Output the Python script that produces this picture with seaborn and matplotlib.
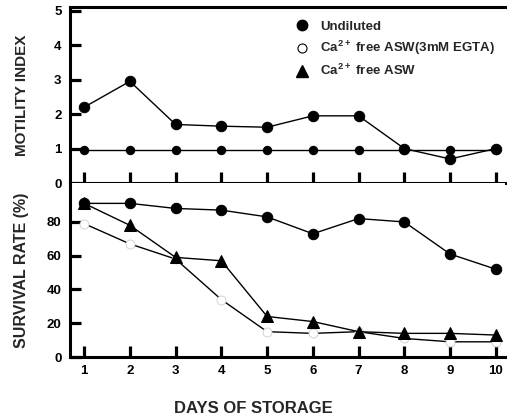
import matplotlib
matplotlib.use("Agg")
import matplotlib.pyplot as plt
import seaborn as sns
import pandas as pd
from matplotlib.lines import Line2D

days = [1, 2, 3, 4, 5, 6, 7, 8, 9, 10]
motility_undiluted = [2.2, 2.95, 1.7, 1.65, 1.62, 1.95, 1.95, 1.0, 0.7, 1.0]
motility_ca_free = [0.97, 0.97, 0.97, 0.97, 0.97, 0.97, 0.97, 0.97, 0.97, 0.97]
survival_undiluted = [91, 91, 88, 87, 83, 73, 82, 80, 61, 52]
survival_egta = [79, 67, 58, 34, 15, 14, 15, 11, 9, 9]
survival_ca_free = [91, 78, 59, 57, 24, 21, 15, 14, 14, 13]
legend_labels = ["Undiluted", r"Ca$^{2+}$ free ASW(3mM EGTA)", r"Ca$^{2+}$ free ASW"]

sns.set_style("ticks")
plt.rcParams['font.family'] = ['Liberation Sans', 'DejaVu Sans']
plt.rcParams['font.weight'] = 'bold'
plt.rcParams['mathtext.fontset'] = 'custom'
plt.rcParams['mathtext.rm'] = 'Liberation Sans:bold'
plt.rcParams['mathtext.default'] = 'rm'

fig = plt.figure(figsize=(5.07, 4.2), dpi=100)
ax1 = fig.add_axes([0.138, 0.564, 0.858, 0.419])
ax2 = fig.add_axes([0.138, 0.150, 0.858, 0.414])

df_top = pd.DataFrame({"day": days, "und": motility_undiluted, "caf": motility_ca_free})
df_bot = pd.DataFrame({"day": days, "und": survival_undiluted,
                       "egta": survival_egta, "caf": survival_ca_free})

lw = 1.0
sns.lineplot(data=df_top, x="day", y="caf", ax=ax1, color="black", lw=lw,
             marker="o", markersize=6, markeredgecolor="black")
sns.lineplot(data=df_top, x="day", y="und", ax=ax1, color="black", lw=lw,
             marker="o", markersize=7.5, markeredgecolor="black")

sns.lineplot(data=df_bot, x="day", y="egta", ax=ax2, color="black", lw=lw,
             marker="o", markersize=6.5, markerfacecolor="white",
             markeredgecolor="#cccccc", markeredgewidth=0.6)
sns.lineplot(data=df_bot, x="day", y="caf", ax=ax2, color="black", lw=lw,
             marker="^", markersize=8, markeredgecolor="black")
sns.lineplot(data=df_bot, x="day", y="und", ax=ax2, color="black", lw=lw,
             marker="o", markersize=7.5, markeredgecolor="black")

for ax in (ax1, ax2):
    ax.set_xlim(0.69, 10.2)
    ax.set_xticks(days)
    ax.spines['right'].set_visible(False)
    for s in ['left', 'bottom', 'top']:
        ax.spines[s].set_linewidth(2.2)
        ax.spines[s].set_color('black')
    ax.set_xlabel("")

ax1.set_ylim(0, 5.1)
ax1.set_yticks([0, 1, 2, 3, 4, 5])
ax1.set_yticklabels(["0", "1", "2", "3", "4", "5"], fontweight='bold')
ax1.set_ylabel("MOTILITY INDEX", fontsize=11, fontweight='bold')

ax2.set_ylim(0, 103)
ax2.set_yticks([0, 20, 40, 60, 80])
ax2.set_yticklabels(["0", "20", "40", "60", "80"], fontweight='bold')
ax2.set_xticklabels([str(d) for d in days], fontweight='bold')
ax2.set_ylabel("SURVIVAL RATE (%)", fontsize=11.5, fontweight='bold')
ax2.spines['top'].set_visible(False)
ax1.yaxis.set_label_coords(-0.095, 0.5)
ax2.yaxis.set_label_coords(-0.095, 0.5)

fig.text(0.5, 0.028, "DAYS OF STORAGE", ha='center', va='center',
         fontsize=12, fontweight='bold')

handles = [
    Line2D([], [], ls='none', marker='o', color='black', markersize=7.5),
    Line2D([], [], ls='none', marker='o', markerfacecolor='white',
           markeredgecolor='black', markeredgewidth=0.8, markersize=6.5),
    Line2D([], [], ls='none', marker='^', color='black', markersize=8),
]
leg = ax1.legend(handles, legend_labels, loc='upper left', bbox_to_anchor=(0.49, 0.99),
                 frameon=False, handlelength=1.0, handletextpad=0.9,
                 labelspacing=0.45, prop={'size': 9.5, 'weight': 'bold'})

for ax in (ax1, ax2):
    ax.tick_params(axis='both', direction='in', length=8, width=2.3,
                   color='black', labelcolor='black', labelsize=9.5, pad=6,
                   left=True, bottom=True, top=False, right=False)
ax1.tick_params(axis='x', labelbottom=False)

fig.savefig("out.png", dpi=100)
